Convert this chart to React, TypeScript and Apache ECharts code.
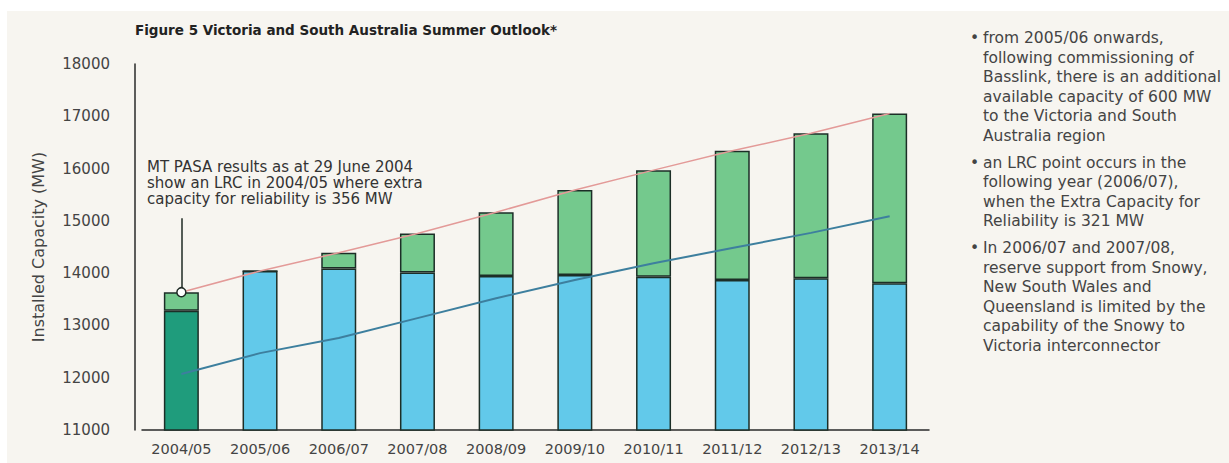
import React, { useEffect, useRef } from "react";
import * as echarts from "echarts";

const categories = ["2004/05", "2005/06", "2006/07", "2007/08", "2008/09", "2009/10", "2010/11", "2011/12", "2012/13", "2013/14"];
// 2004/05 installed capacity (dark green, LRC year)
const lrcYearCapacity: (number | string)[] = [13280, "-", "-", "-", "-", "-", "-", "-", "-", "-"];
// installed capacity for later years (blue)
const installedCapacity: (number | string)[] = ["-", 14040, 14090, 14010, 13945, 13965, 13930, 13870, 13900, 13805];
// extra capacity on top (light green)
const extraCapacity = [356, 0, 300, 750, 1220, 1625, 2040, 2470, 2775, 3250];
// blue trend line
const trendLine = [12070, 12470, 12760, 13140, 13520, 13870, 14190, 14480, 14770, 15090];
const yTicks = { min: 11000, max: 18000, interval: 1000 };

const titleText = "Figure 5 Victoria and South Australia Summer Outlook*";
const noteLines = [
  "MT PASA results as at 29 June 2004",
  "show an LRC in 2004/05 where extra",
  "capacity for reliability is 356 MW",
];
const bulletLines = [
  ["from 2005/06 onwards,", "following commissioning of", "Basslink, there is an additional", "available capacity of 600 MW", "to the Victoria and South", "Australia region"],
  ["an LRC point occurs in the", "following year (2006/07),", "when the Extra Capacity for", "Reliability is 321 MW"],
  ["In 2006/07 and 2007/08,", "reserve support from Snowy,", "New South Wales and", "Queensland is limited by the", "capability of the Snowy to", "Victoria interconnector"],
];
const calloutTop = 15050;

export default function App() {
  const ref = useRef<HTMLDivElement>(null);
  useEffect(() => {
    if (!ref.current) return;
    const chart = echarts.init(ref.current, null, { renderer: "svg" });
    const totals = extraCapacity.map((e, i) => {
      const b = typeof lrcYearCapacity[i] === "number" ? (lrcYearCapacity[i] as number) : (installedCapacity[i] as number);
      return b + e;
    });
    const redData: any[] = totals.map((v, i) =>
      i === 0
        ? { value: v, symbol: "circle", symbolSize: 9, itemStyle: { color: "#ffffff", borderColor: "#1f2a25", borderWidth: 1.5 } }
        : { value: v, symbol: "none" }
    );
    const font = "DejaVu Sans";
    const textColor = "#444";
    const graphics: any[] = [
      { type: "rect", z: -100, silent: true, shape: { x: 7, y: 11, width: 1229, height: 463 }, style: { fill: "#f7f5f0" } },
      { type: "text", left: 135, top: 23, style: { text: titleText, font: `bold 13.5px ${font}`, fill: "#222" } },
    ];
    noteLines.forEach((t, i) => {
      graphics.push({ type: "text", left: 147, top: 159 + i * 16, style: { text: t, font: `15px ${font}`, fill: "#333" } });
    });
    let y = 30;
    bulletLines.forEach((group) => {
      group.forEach((t, j) => {
        if (j === 0) graphics.push({ type: "text", left: 970, top: y, style: { text: "•", font: `15.5px ${font}`, fill: textColor } });
        graphics.push({ type: "text", left: 983, top: y, style: { text: t, font: `15.5px ${font}`, fill: textColor } });
        y += 19.5;
      });
      y += 7.5;
    });
    chart.setOption({
      animation: false,
      backgroundColor: "#ffffff",
      textStyle: { fontFamily: font },
      grid: { left: 142, right: 300, top: 64, bottom: 33 },
      xAxis: {
        type: "category",
        data: categories,
        axisLine: { lineStyle: { color: "#2a2a2a", width: 1.5 } },
        axisTick: { show: false },
        axisLabel: { color: "#444", fontSize: 14.5, margin: 11, interval: 0, fontFamily: font },
      },
      yAxis: {
        type: "value",
        min: yTicks.min,
        max: yTicks.max,
        interval: yTicks.interval,
        offset: 7,
        name: "Installed Capacity (MW)",
        nameLocation: "middle",
        nameGap: 89,
        nameTextStyle: { color: "#444", fontSize: 16, fontFamily: font },
        axisLine: { show: true, lineStyle: { color: "#2a2a2a", width: 1.5 } },
        axisTick: { show: false },
        splitLine: { show: false },
        axisLabel: { color: "#444", fontSize: 15, margin: 25, fontFamily: font, formatter: (v: number) => String(v) },
      },
      graphic: graphics,
      series: [
        {
          type: "bar", stack: "cap", data: lrcYearCapacity, barWidth: 35,
          itemStyle: { color: "#1f9c7c", borderColor: "#1c2e27", borderWidth: 1.5 },
        },
        {
          type: "bar", stack: "cap", data: installedCapacity, barWidth: 35,
          itemStyle: { color: "#62c9ea", borderColor: "#1c2e27", borderWidth: 1.5 },
        },
        {
          type: "bar", stack: "cap", data: extraCapacity, barWidth: 35,
          itemStyle: { color: "#74c98d", borderColor: "#1c2e27", borderWidth: 1.5 },
        },
        {
          type: "line", data: redData, showSymbol: true, symbol: "none", z: 5,
          lineStyle: { color: "#e39a98", width: 1.5 },
          markLine: {
            silent: true, symbol: "none", label: { show: false },
            lineStyle: { color: "#1f2a25", width: 1.5, type: "solid" },
            data: [[{ coord: [0, totals[0]] }, { coord: [0, calloutTop] }]],
          },
        },
        {
          type: "line", data: trendLine, symbol: "none", z: 6,
          lineStyle: { color: "#3d7f9e", width: 2 },
        },
      ],
    });
    return () => chart.dispose();
  }, []);
  return <div ref={ref} style={{ position: "fixed", left: 0, top: 0, width: 1229, height: 463 }} />;
}
